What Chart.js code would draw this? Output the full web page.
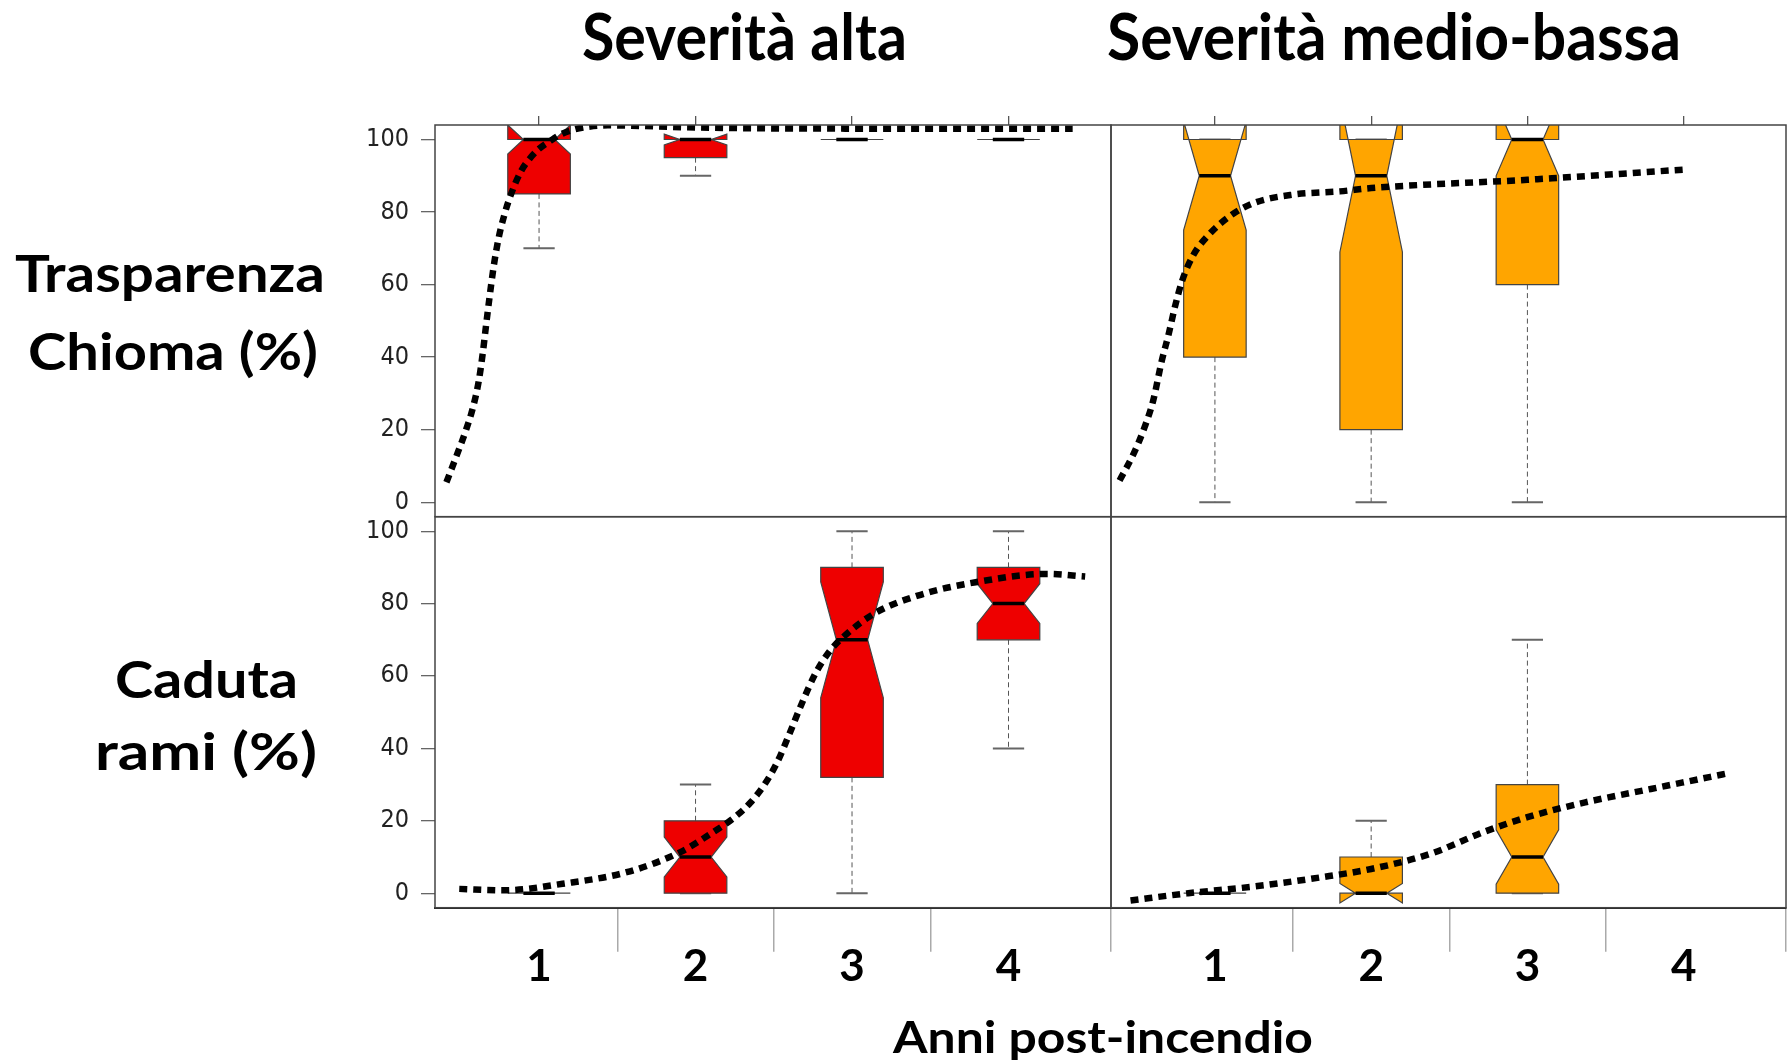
<!DOCTYPE html>
<html lang="it">
<head>
<meta charset="utf-8">
<title>Trasparenza chioma e caduta rami</title>
<script src="https://cdn.jsdelivr.net/npm/chart.js@4.4.1/dist/chart.umd.min.js"></script>
<style>
  html, body { margin: 0; padding: 0; background: #fff; }
  #page { position: relative; width: 1792px; height: 1062px; overflow: hidden; }
  #page canvas { position: absolute; left: 0; top: 0; }
  .lbl { position: absolute; white-space: nowrap; font-family: Lato, 'Open Sans', sans-serif; font-weight: 700; color: #000; line-height: 1; transform-origin: 0 0; }
  .lbl i { display: inline-block; width: 0; height: 0; }
</style>
</head>
<body>
<div id="page">
  <canvas id="tl" width="1792" height="1062"></canvas>
  <canvas id="tr" width="1792" height="1062"></canvas>
  <canvas id="bl" width="1792" height="1062"></canvas>
  <canvas id="br" width="1792" height="1062"></canvas>
</div>
<script>
// ---- dati ----
const anni = [1, 2, 3, 4];
const yTicks = [0, 20, 40, 60, 80, 100];
const separatori = [1.5, 2.5, 3.5];

// Trasparenza chioma - severità alta
const tcAltaMin = [70, 90, 100, 100];
const tcAltaQ1 = [85, 95, 100, 100];
const tcAltaMed = [100, 100, 100, 100];
const tcAltaQ3 = [100, 100, 100, 100];
const tcAltaMax = [100, 100, 100, 100];
const tcAltaNotch = [4, 1.5, 0, 0];
const tcAltaCurvaX = [0.408, 0.47, 0.53, 0.58, 0.615, 0.64, 0.662, 0.685, 0.71, 0.74, 0.78, 0.824, 0.888, 0.94, 0.994, 1.068, 1.143, 1.228, 1.313, 1.44, 2.0, 3.0, 4.41];
const tcAltaCurvaY = [5.5, 12.5, 19.5, 26.5, 33.5, 41, 49, 57, 65, 72.5, 79.5, 85.3, 91.5, 94.7, 97.2, 99.5, 101.5, 102.8, 103.5, 103.9, 103.3, 103, 103];

// Trasparenza chioma - severità medio-bassa
const tcMedioMin = [0, 0, 0, null];
const tcMedioQ1 = [40, 20, 60, null];
const tcMedioMed = [90, 90, 100, null];
const tcMedioQ3 = [100, 100, 100, null];
const tcMedioMax = [100, 100, 100, null];
const tcMedioNotch = [15, 21, 10, null];
const tcMedioCurvaX = [0.39, 0.48, 0.55, 0.605, 0.66, 0.705, 0.745, 0.79, 0.86, 0.96, 1.1, 1.25, 1.5, 1.8, 2.0, 3.0, 4.0];
const tcMedioCurvaY = [6, 13.4, 20.7, 28, 39, 46.5, 54, 61, 68, 73.7, 79, 82.5, 84.8, 85.7, 86.6, 88.9, 91.7];

// Caduta rami - severità alta
const crAltaMin = [0, 0, 0, 40];
const crAltaQ1 = [0, 0, 32, 70];
const crAltaMed = [0, 10, 70, 80];
const crAltaQ3 = [0, 20, 90, 90];
const crAltaMax = [0, 30, 100, 100];
const crAltaNotch = [0, 5.5, 16, 5.5];
const crAltaCurvaX = [0.49, 0.78, 1.15, 1.56, 1.9, 2.1, 2.25, 2.35, 2.44, 2.52, 2.6, 2.68, 2.77, 2.86, 2.95, 3.14, 3.42, 3.79, 4.25, 4.49];
const crAltaCurvaY = [1.2, 0.8, 2.6, 5.8, 11.3, 16.5, 21, 25, 30, 36, 44, 52.5, 61, 67, 71, 77.2, 82.2, 85.9, 88.2, 87.5];

// Caduta rami - severità medio-bassa
const crMedioMin = [0, 0, 0, null];
const crMedioQ1 = [0, 0, 0, null];
const crMedioMed = [0, 0, 10, null];
const crMedioQ3 = [0, 10, 30, null];
const crMedioMax = [0, 20, 70, null];
const crMedioNotch = [0, 2.7, 7.5, null];
const crMedioCurvaX = [0.46, 0.83, 1.25, 1.68, 2.0, 2.38, 2.72, 3.0, 3.37, 3.79, 4.27];
const crMedioCurvaY = [-2, 0, 1.85, 4.4, 6.7, 10.9, 16.9, 21, 25.1, 28.8, 33];

// ---- impaginazione ----
const X_MIN = 0.335, X_MAX = 4.655;
const MEZZA = 0.2; // semi-larghezza del box (unità asse x)
const ROSSO = '#ee0000', ARANCIO = '#ffa500';
const Y_W = 100; // larghezza asse y

Chart.defaults.font.family = 'Lato, sans-serif';

function boxPlugin(s, colore) {
  return {
    id: 'boxNotch',
    beforeDatasetsDraw(chart) {
      const { ctx, chartArea: a, scales: { x, y } } = chart;
      const X = v => x.getPixelForValue(v);
      const Y = v => y.getPixelForValue(v);
      ctx.save();
      ctx.beginPath();
      ctx.rect(a.left, a.top, a.width, a.height);
      ctx.clip();
      anni.forEach((anno, i) => {
        const med = s.med[i];
        if (med == null) return;
        const q1 = s.q1[i], q3 = s.q3[i];
        const nLo = med - s.notch[i], nHi = med + s.notch[i];
        // baffi
        ctx.strokeStyle = '#555';
        ctx.lineWidth = 1;
        ctx.setLineDash([5, 3.5]);
        ctx.beginPath();
        ctx.moveTo(X(anno), Y(q1)); ctx.lineTo(X(anno), Y(s.min[i]));
        ctx.moveTo(X(anno), Y(q3)); ctx.lineTo(X(anno), Y(s.max[i]));
        ctx.stroke();
        ctx.setLineDash([]);
        ctx.strokeStyle = '#666';
        ctx.lineWidth = 2;
        ctx.beginPath();
        [s.min[i], s.max[i]].forEach(v => {
          ctx.moveTo(X(anno - MEZZA / 2), Y(v));
          ctx.lineTo(X(anno + MEZZA / 2), Y(v));
        });
        ctx.stroke();
        // box con notch
        const pts = [[-1, q1], [-1, nLo], [-0.5, med], [-1, nHi], [-1, q3],
                     [1, q3], [1, nHi], [0.5, med], [1, nLo], [1, q1]];
        ctx.beginPath();
        pts.forEach(([k, v], j) => {
          const px = X(anno + k * MEZZA), py = Y(v);
          if (j) ctx.lineTo(px, py); else ctx.moveTo(px, py);
        });
        ctx.closePath();
        ctx.fillStyle = colore;
        ctx.fill();
        ctx.strokeStyle = '#444';
        ctx.lineWidth = 1.2;
        ctx.stroke();
        // mediana
        ctx.strokeStyle = '#000';
        ctx.lineWidth = 3.5;
        ctx.beginPath();
        ctx.moveTo(X(anno - MEZZA / 2), Y(med));
        ctx.lineTo(X(anno + MEZZA / 2), Y(med));
        ctx.stroke();
      });
      ctx.restore();
    }
  };
}

const cornice = {
  id: 'cornice',
  afterDraw(chart) {
    const { ctx, chartArea: a } = chart;
    ctx.save();
    ctx.strokeStyle = '#444';
    ctx.lineWidth = 1.5;
    ctx.strokeRect(a.left, a.top, a.width, a.height);
    ctx.restore();
  }
};

function pannello(id, s, curvaX, curvaY, colore, area, alto, conAsseY) {
  const xAxis = alto ? {
    type: 'linear', position: 'top', min: X_MIN, max: X_MAX,
    afterBuildTicks: ax => { ax.ticks = anni.map(v => ({ value: v })); },
    afterFit: ax => { ax.height = 9; },
    ticks: { display: false },
    grid: { drawOnChartArea: false, tickLength: 9, color: '#555', lineWidth: 1.3 },
    border: { display: false }
  } : {
    type: 'linear', position: 'bottom', min: X_MIN, max: X_MAX,
    afterBuildTicks: ax => {
      ax.ticks = [...anni, ...separatori, X_MAX].sort((a, b) => a - b).map(v => ({ value: v }));
    },
    afterFit: ax => { ax.height = 80; },
    ticks: {
      autoSkip: false, maxRotation: 0, minRotation: 0, padding: -7, color: '#000',
      font: { family: 'Lato', weight: 'bold', size: 44, lineHeight: 1 },
      callback: v => anni.includes(v) ? String(v) : ''
    },
    grid: {
      drawOnChartArea: false, tickLength: 44, lineWidth: 1.5,
      color: c => (c.tick && anni.includes(c.tick.value)) ? 'rgba(0,0,0,0)' : '#aaa'
    },
    border: { display: true, color: '#222', width: 2 }
  };

  const yAxis = {
    display: conAsseY, min: -4, max: 104,
    afterBuildTicks: ax => { ax.ticks = yTicks.map(v => ({ value: v })); },
    afterFit: ax => { ax.width = conAsseY ? Y_W : 0; },
    ticks: {
      padding: 12, color: '#222',
      font: { family: "'Liberation Sans Narrow', 'DejaVu Sans Condensed', sans-serif", size: 25 }
    },
    grid: { drawOnChartArea: false, tickLength: 14, color: '#666', lineWidth: 1.3 },
    border: { display: false }
  };

  return new Chart(document.getElementById(id), {
    type: 'line',
    data: {
      datasets: [{
        data: curvaX.map((x, i) => ({ x, y: curvaY[i] })),
        borderColor: '#000',
        borderWidth: 6.5,
        borderDash: [8, 6],
        borderCapStyle: 'butt',
        pointRadius: 0,
        cubicInterpolationMode: 'monotone',
        fill: false
      }]
    },
    options: {
      responsive: false,
      animation: false,
      devicePixelRatio: 1,
      events: [],
      layout: {
        padding: {
          left: conAsseY ? area.left - Y_W : area.left,
          right: 1792 - area.right,
          top: alto ? area.top - 9 : area.top,
          bottom: alto ? 1062 - area.bottom : 1062 - area.bottom - 80
        }
      },
      scales: { x: xAxis, y: yAxis },
      plugins: { legend: { display: false }, tooltip: { enabled: false } }
    },
    plugins: [boxPlugin(s, colore), cornice]
  });
}

const L = 435, M = 1111, R = 1786, T = 125, D = 516.7, B = 907.7;

pannello('tl',
  { min: tcAltaMin, q1: tcAltaQ1, med: tcAltaMed, q3: tcAltaQ3, max: tcAltaMax, notch: tcAltaNotch },
  tcAltaCurvaX, tcAltaCurvaY, ROSSO, { left: L, right: M, top: T, bottom: D }, true, true);
pannello('tr',
  { min: tcMedioMin, q1: tcMedioQ1, med: tcMedioMed, q3: tcMedioQ3, max: tcMedioMax, notch: tcMedioNotch },
  tcMedioCurvaX, tcMedioCurvaY, ARANCIO, { left: M, right: R, top: T, bottom: D }, true, false);
pannello('bl',
  { min: crAltaMin, q1: crAltaQ1, med: crAltaMed, q3: crAltaQ3, max: crAltaMax, notch: crAltaNotch },
  crAltaCurvaX, crAltaCurvaY, ROSSO, { left: L, right: M, top: D, bottom: B }, false, true);
pannello('br',
  { min: crMedioMin, q1: crMedioQ1, med: crMedioMed, q3: crMedioQ3, max: crMedioMax, notch: crMedioNotch },
  crMedioCurvaX, crMedioCurvaY, ARANCIO, { left: M, right: R, top: D, bottom: B }, false, false);

// ---- testi ----
const testi = [
  { t: 'Severità alta', left: 582, width: 325, base: 60, cap: 47 },
  { t: 'Severità medio-bassa', left: 1107, width: 574, base: 60, cap: 47 },
  { t: 'Trasparenza', left: 15, width: 310, base: 291.7, cap: 36.7 },
  { t: 'Chioma (%)', left: 28, width: 290, base: 370, cap: 37 },
  { t: 'Caduta', left: 115, width: 183, base: 698, cap: 36.5 },
  { t: 'rami (%)', left: 95, width: 222, base: 770, cap: 36.5 },
  { t: 'Anni post-incendio', left: 893, width: 420, base: 1053.3, cap: 31.7 }
];

const page = document.getElementById('page');
testi.forEach(d => {
  const el = document.createElement('div');
  el.className = 'lbl';
  el.style.fontSize = (d.cap / 0.7165) + 'px';
  el.textContent = d.t;
  const marker = document.createElement('i');
  el.appendChild(marker);
  page.appendChild(el);
  const w = el.getBoundingClientRect().width;
  el.style.left = d.left + 'px';
  el.style.top = (d.base - marker.offsetTop) + 'px';
  el.style.transform = 'scaleX(' + (d.width / w) + ')';
});
</script>
</body>
</html>
